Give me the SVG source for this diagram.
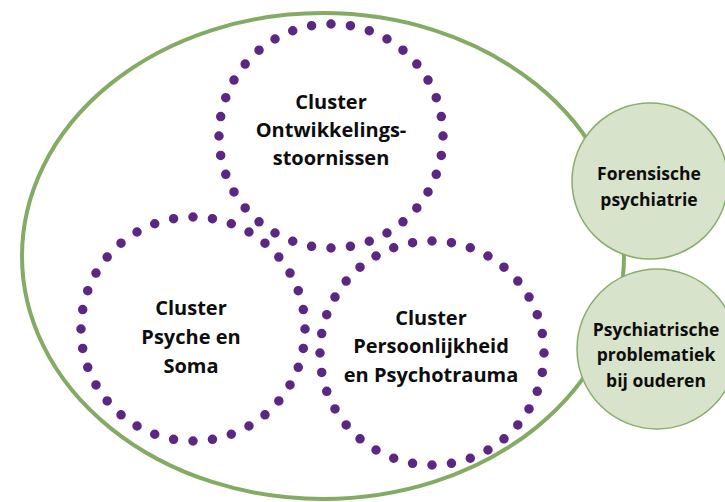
<svg xmlns="http://www.w3.org/2000/svg" width="725" height="502" viewBox="0 0 725 502">
<defs>
<style>
.outer{fill:none;stroke:#84ab63;stroke-width:4}
.dots{fill:none;stroke:#5b2783;stroke-width:9.5;stroke-linecap:round;stroke-dasharray:0 1}
.side{fill:#d7e3ca;stroke:#88ae6a;stroke-width:1.5}
.t{font-family:"Open Sans","Noto Sans","DejaVu Sans",sans-serif;font-weight:700;fill:#0d0d0d;text-anchor:middle}
.big{font-size:20px}
.small{font-size:17.5px}
</style>
</defs>
<rect width="725" height="502" fill="#ffffff"/>
<g id="connectors">
<ellipse class="outer" cx="323" cy="256" rx="301" ry="243"/>
</g>
<g id="cluster-ontwikkeling">
<circle class="dots" cx="331" cy="136" r="112" pathLength="36"/>
<text class="t big" x="331" y="109">Cluster</text>
<text class="t big" x="331" y="137">Ontwikkelings-</text>
<text class="t big" x="331" y="165">stoornissen</text>
</g>
<g id="cluster-psyche-soma">
<circle class="dots" cx="193" cy="329" r="112" pathLength="36"/>
<text class="t big" x="191" y="315">Cluster</text>
<text class="t big" x="191" y="344">Psyche en</text>
<text class="t big" x="191" y="373">Soma</text>
</g>
<g id="cluster-persoonlijkheid">
<circle class="dots" cx="432" cy="353" r="112" pathLength="36"/>
<text class="t big" x="431" y="325">Cluster</text>
<text class="t big" x="431" y="353">Persoonlijkheid</text>
<text class="t big" x="431" y="382">en Psychotrauma</text>
</g>
<g id="forensische">
<circle class="side" cx="650" cy="181" r="78"/>
<text class="t small" x="649" y="180">Forensische</text>
<text class="t small" x="649" y="206">psychiatrie</text>
</g>
<g id="ouderen">
<circle class="side" cx="657" cy="349" r="80"/>
<text class="t small" x="656" y="336">Psychiatrische</text>
<text class="t small" x="656" y="361">problematiek</text>
<text class="t small" x="656" y="387">bij ouderen</text>
</g>
</svg>
